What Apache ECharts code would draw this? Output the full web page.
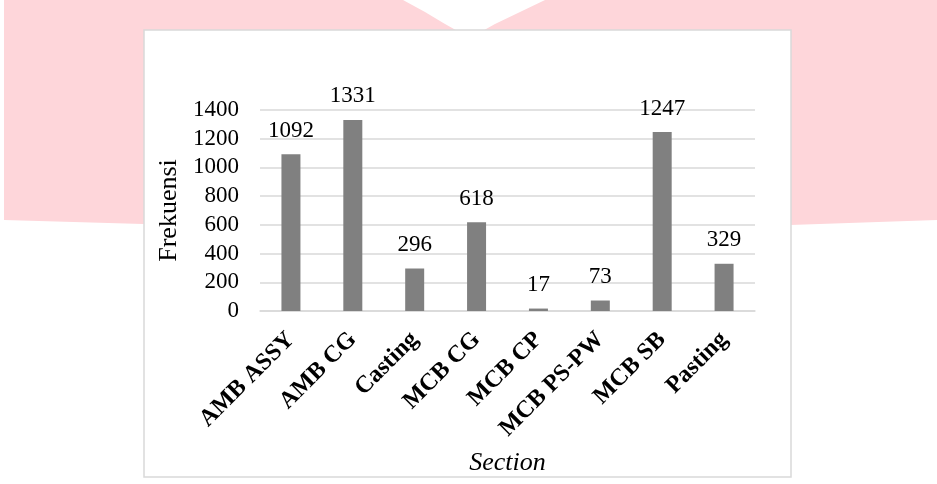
<!DOCTYPE html>
<html>
<head>
<meta charset="utf-8">
<script src="https://cdn.jsdelivr.net/npm/echarts@6/dist/echarts.min.js"></script>
<style>
  html, body { margin: 0; padding: 0; background: #ffffff; }
  #chart { width: 937px; height: 484px; }
</style>
</head>
<body>
<div id="chart"></div>
<script>
// Frequency of findings per production section
const sections = ['AMB ASSY', 'AMB CG', 'Casting', 'MCB CG', 'MCB CP', 'MCB PS-PW', 'MCB SB', 'Pasting'];
const frekuensi = [1092, 1331, 296, 618, 17, 73, 1247, 329];
const yTicks = { min: 0, max: 1400, interval: 200 };

const serif = '"Liberation Serif", "Times New Roman", serif';

const chart = echarts.init(document.getElementById('chart'), null, { renderer: 'canvas' });

chart.setOption({
  animation: false,
  backgroundColor: '#ffffff',
  graphic: [
    // pale pink band behind the chart panel, with a notch at the top
    {
      type: 'polygon',
      z: -10,
      shape: {
        points: [
          [4, 0], [403, 0], [425, 12], [445, 24], [470, 38],
          [495, 24], [520, 12], [545, 0], [937, 0],
          [937, 220], [790, 225], [470, 227], [143, 224], [4, 220]
        ]
      },
      style: { fill: '#fed6da' },
      silent: true
    },
    // white chart panel with thin grey frame
    {
      type: 'rect',
      z: -5,
      shape: { x: 144, y: 30, width: 647, height: 447 },
      style: { fill: '#ffffff', stroke: '#d9d9d9', lineWidth: 1.5 },
      silent: true
    }
  ],
  grid: { left: 260, right: 182, top: 110, bottom: 173, containLabel: false },
  xAxis: {
    type: 'category',
    data: sections,
    name: 'Section',
    nameLocation: 'middle',
    nameGap: 139,
    nameTextStyle: { fontFamily: serif, fontSize: 26, fontStyle: 'italic', color: '#000' },
    axisLine: { show: true, lineStyle: { color: '#d9d9d9', width: 1.5 } },
    axisTick: { show: false },
    axisLabel: {
      interval: 0,
      rotate: 45,
      margin: 25,
      fontFamily: serif,
      fontSize: 24,
      fontWeight: 'bold',
      color: '#000'
    }
  },
  yAxis: {
    type: 'value',
    min: yTicks.min,
    max: yTicks.max,
    interval: yTicks.interval,
    name: 'Frekuensi',
    nameLocation: 'middle',
    nameGap: 70,
    nameRotate: 90,
    nameTextStyle: { fontFamily: serif, fontSize: 26, color: '#000' },
    axisLine: { show: false },
    axisTick: { show: false },
    axisLabel: {
      margin: 21,
      fontFamily: serif,
      fontSize: 23,
      color: '#000',
      formatter: (v) => String(v)
    },
    splitLine: { lineStyle: { color: '#d9d9d9', width: 1.5 } }
  },
  series: [{
    type: 'bar',
    data: frekuensi,
    barWidth: 19,
    itemStyle: { color: '#808080' },
    label: {
      show: true,
      position: 'top',
      distance: 12,
      fontFamily: serif,
      fontSize: 23,
      color: '#000'
    }
  }]
});
</script>
</body>
</html>
